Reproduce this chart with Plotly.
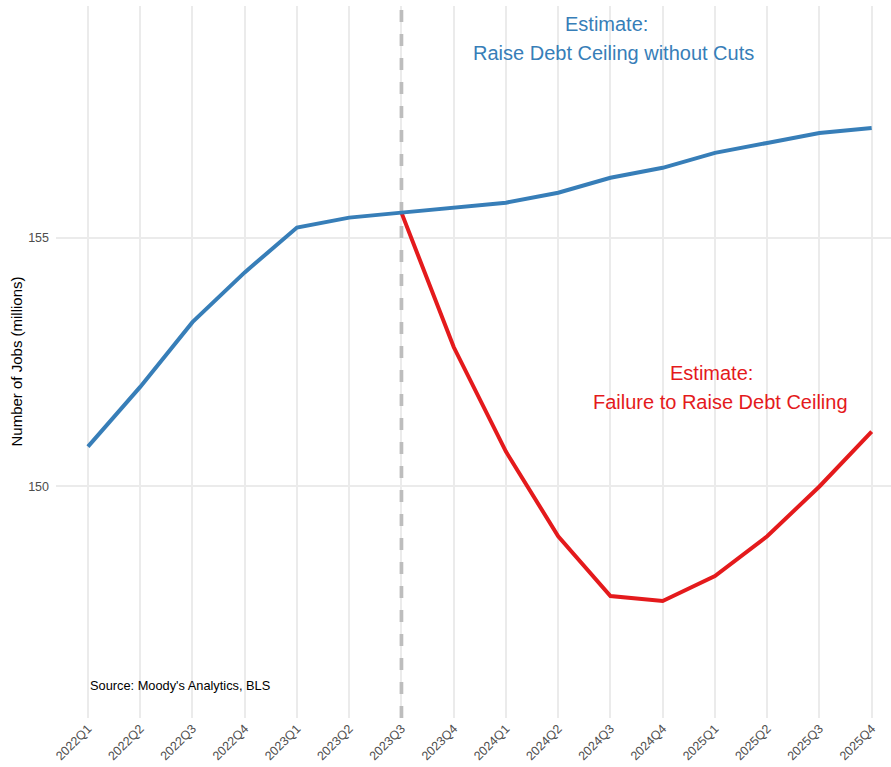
import plotly.graph_objects as go

# Quarterly payroll employment, millions of jobs
quarters = ["2022Q1", "2022Q2", "2022Q3", "2022Q4",
            "2023Q1", "2023Q2", "2023Q3", "2023Q4",
            "2024Q1", "2024Q2", "2024Q3", "2024Q4",
            "2025Q1", "2025Q2", "2025Q3", "2025Q4"]

# Baseline path: debt ceiling raised without cuts
raise_jobs = [150.8, 152.0, 153.3, 154.3, 155.2, 155.4, 155.5, 155.6,
              155.7, 155.9, 156.2, 156.4, 156.7, 156.9, 157.1, 157.2]

# Default path: failure to raise the ceiling, starting at 2023Q3
fail_quarters = quarters[6:]
fail_jobs = [155.5, 152.8, 150.7, 149.0, 147.8, 147.7, 148.2, 149.0, 150.0, 151.1]

y_ticks = [150, 155]
y_range = [145.35, 159.65]

BLUE = "#377eb8"
RED = "#e41a1c"
FONT = "Liberation Sans, Arial, Helvetica, sans-serif"

fig = go.Figure()

# Divider at the start of the projection period, spanning the full panel
fig.add_trace(go.Scatter(
    x=["2023Q3", "2023Q3"], y=y_range, mode="lines",
    line=dict(color="#bdbdbd", width=3.7, dash="12px,12px"),
    showlegend=False, hoverinfo="skip", cliponaxis=True,
))

fig.add_trace(go.Scatter(
    x=fail_quarters, y=fail_jobs, mode="lines",
    line=dict(color=RED, width=4), showlegend=False, hoverinfo="x+y",
))
fig.add_trace(go.Scatter(
    x=quarters, y=raise_jobs, mode="lines",
    line=dict(color=BLUE, width=4), showlegend=False, hoverinfo="x+y",
))

annotations = [
    dict(x=9.93, y=159.29, text="Estimate:", font=dict(size=20, color=BLUE)),
    dict(x=10.05, y=158.71, text="Raise Debt Ceiling without Cuts",
         font=dict(size=20, color=BLUE)),
    dict(x=11.94, y=152.28, text="Estimate:", font=dict(size=20, color=RED)),
    dict(x=12.1, y=151.69, text="Failure to Raise Debt Ceiling",
         font=dict(size=20, color=RED)),
]
for a in annotations:
    fig.add_annotation(xref="x", yref="y", showarrow=False,
                       xanchor="center", yanchor="middle", **a)

fig.add_annotation(
    xref="x", yref="y", x=0, y=146.0, text="Source: Moody's Analytics, BLS",
    showarrow=False, xanchor="left", yanchor="middle",
    font=dict(size=12.8, color="#000000"),
)

fig.add_annotation(
    xref="paper", yref="paper", x=-0.0485, y=0.5,
    text="Number of Jobs (millions)", textangle=-90, showarrow=False,
    xanchor="center", yanchor="middle",
    font=dict(size=15, color="#000000"),
)

fig.update_layout(
    width=891, height=767,
    margin=dict(l=56, r=0, t=6, b=49),
    paper_bgcolor="white", plot_bgcolor="white",
    font=dict(family=FONT, color="#4d4d4d"),
    xaxis=dict(
        type="category", categoryorder="array", categoryarray=quarters,
        range=[-0.612, 15.37],
        tickmode="array", tickvals=quarters, ticktext=quarters,
        tickangle=-45, tickfont=dict(size=12.5, color="#4d4d4d"),
        showgrid=True, gridcolor="#ebebeb", gridwidth=1.6,
        zeroline=False, showline=False, ticks="",
    ),
    yaxis=dict(
        range=y_range,
        tickmode="array", tickvals=y_ticks,
        tickfont=dict(size=12.5, color="#4d4d4d"),
        showgrid=True, gridcolor="#ebebeb", gridwidth=1.6,
        zeroline=False, showline=False, ticks="",
        ticklabelstandoff=6,
    ),
)

fig.write_html("out.html")
